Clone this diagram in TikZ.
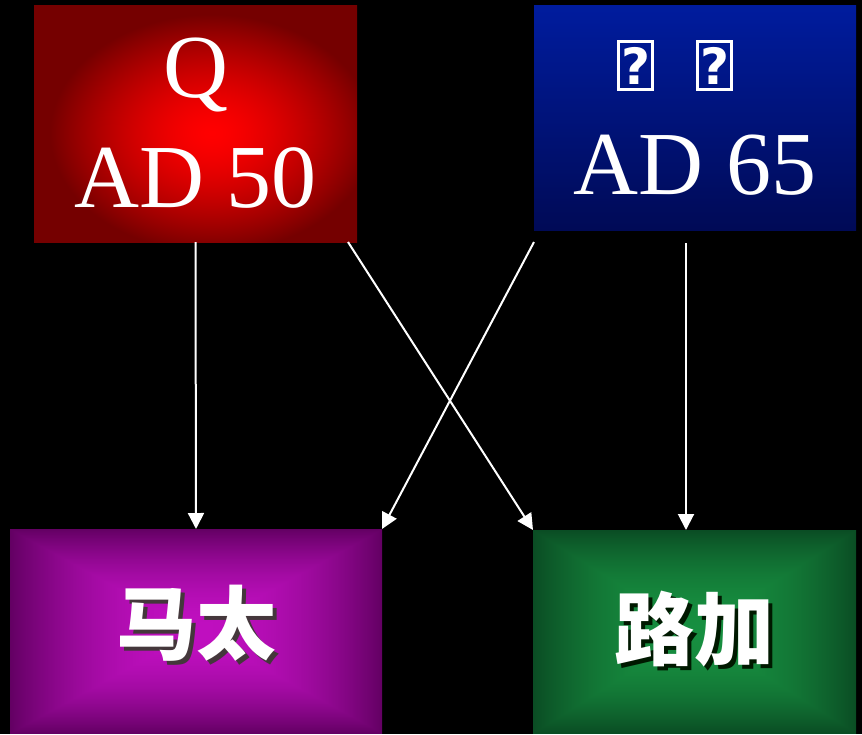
\documentclass[tikz,border=0pt]{standalone}
\usepackage{fontspec}
\setmainfont{Liberation Serif}
\newfontfamily\cjk{Noto Sans CJK SC}
\newfontfamily\tofufont{DejaVu Sans}
\usetikzlibrary{arrows.meta}

% glow shadings: bright centre, dark rim
\pgfdeclarefunctionalshading{glowred}{\pgfpointorigin}{\pgfpoint{100bp}{100bp}}{}{
  48 sub 25 div dup mul exch 52.5 sub 25 div dup mul add sqrt dup 1 gt {pop 1} if
  dup sqrt mul -0.54 mul 1 add 0 0}
\pgfdeclarefunctionalshading{glowpurple}{\pgfpointorigin}{\pgfpoint{100bp}{100bp}}{}{
  50 sub abs exch 50 sub abs 2 copy lt {exch} if pop 25 div dup 1 gt {pop 1} if dup mul
  dup -0.36 mul 0.75 add exch dup -0.06 mul 0.06 add exch -0.36 mul 0.75 add}
\pgfdeclarefunctionalshading{glowgreen}{\pgfpointorigin}{\pgfpoint{100bp}{100bp}}{}{
  50 sub abs exch 50 sub abs 2 copy lt {exch} if pop 25 div dup 1 gt {pop 1} if dup mul
  dup -0.05 mul 0.09 add exch dup -0.26 mul 0.56 add exch -0.11 mul 0.25 add}

\newcommand\tofu{{\setlength\fboxrule{3pt}\setlength\fboxsep{0pt}\fbox{\parbox[b][45pt][c]{31pt}{\centering\tofufont\bfseries\fontsize{50}{50}\selectfont ?}}}}
\newcommand\shadowed[2]{\leavevmode\rlap{\kern4pt\raisebox{-4pt}{\color{#1}#2}}#2}

\begin{document}
\begin{tikzpicture}[x=1pt,y=-1pt,
  box/.style={inner sep=0pt, outer sep=0pt, text=white, align=center},
  arr/.style={draw=white, line width=2pt, -{Triangle[length=16pt,width=16pt]}}]
			%%%%% BACKGROUND %%%%%
			\fill[black] (0,0) rectangle (862,734);
			\useasboundingbox (0,0) rectangle (862,734);
			
			%%%%% BOXES %%%%%
			\node[box, minimum width=323pt, minimum height=237pt, shade, shading=glowred,
			  font=\fontsize{90}{110}\selectfont] (Q) at (195.5,123.5) {Q\\AD 50};
			
			\node[box, minimum width=322pt, minimum height=225pt,
			  top color={rgb,255:red,0;green,28;blue,158}, bottom color={rgb,255:red,0;green,10;blue,86},
			  font=\fontsize{90}{106}\selectfont] (M) at (695,117.5) {\tofu\hspace{42pt}\tofu\hspace{40pt}\null\\AD 65};
			
			\node[box, minimum width=372pt, minimum height=204pt, shade, shading=glowpurple,
			  font=\cjk\bfseries\fontsize{80}{80}\selectfont] (Mt) at (196,631) {\raisebox{23pt}{\shadowed{magenta!15!black}{马太}}};
			
			\node[box, minimum width=323pt, minimum height=203pt, shade, shading=glowgreen,
			  font=\cjk\bfseries\fontsize{80}{80}\selectfont] (L) at (694.5,631.5) {\shadowed{green!10!black}{路加}};
			
			%%%%% ARROWS %%%%%
			\coordinate (Mfoot) at ([xshift=-9pt,yshift=-13pt]M.south);
			\draw[arr] (Q.south) -- (Mt.north);
			\draw[arr] ([xshift=-9pt]Q.south east) -- (L.north west);
			\draw[arr] ([yshift=-12pt]M.south west) -- (Mt.north east);
			\draw[arr] (Mfoot) -- (Mfoot |- L.north);
			
			%%%%% END %%%%%
\end{tikzpicture}
\end{document}
